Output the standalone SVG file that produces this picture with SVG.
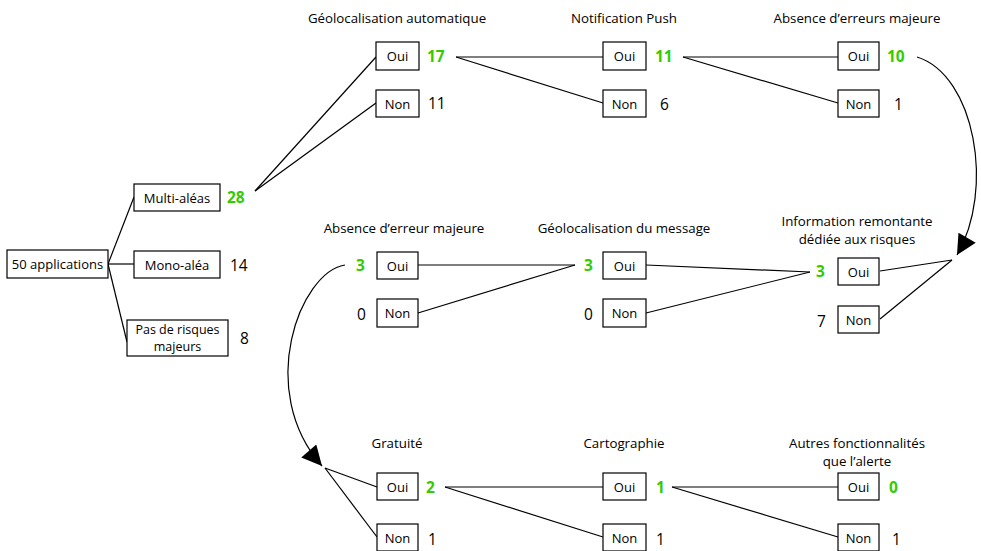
<svg xmlns="http://www.w3.org/2000/svg" width="981" height="551" viewBox="0 0 981 551">
<style>
.box{fill:#fff;stroke:#000;stroke-width:1.2}
.lbl{font-family:"Open Sans","Noto Sans",sans-serif;font-size:13px;fill:#000;text-anchor:middle;dominant-baseline:central}
.sm{font-size:12.5px}
.ttl{font-family:"Open Sans","Noto Sans",sans-serif;font-size:13.3px;fill:#000;text-anchor:middle}
.num{font-family:"Open Sans","Noto Sans",sans-serif;font-size:15.5px;fill:#000;dominant-baseline:central}
.g{fill:#33cc00;font-weight:bold}
.ln{fill:none;stroke:#000;stroke-width:1.2}
</style>
<defs>
<marker id="ahb" viewBox="0 0 10 10" refX="10" refY="5" markerWidth="24" markerHeight="20" markerUnits="userSpaceOnUse" orient="auto">
<path d="M0,0 L10,5 L0,10 z" fill="#000"/>
</marker>
</defs>
<rect width="981" height="551" fill="#fff"/>
<g id="connectors">
<line class="ln" x1="108" y1="264" x2="134" y2="197"/>
<line class="ln" x1="108" y1="264" x2="134" y2="264"/>
<line class="ln" x1="108" y1="264" x2="127" y2="342"/>
<line class="ln" x1="255" y1="191" x2="376" y2="57"/>
<line class="ln" x1="255" y1="191" x2="376" y2="103"/>
<line class="ln" x1="456" y1="57" x2="603" y2="57"/>
<line class="ln" x1="456" y1="57" x2="603" y2="103"/>
<line class="ln" x1="683" y1="57" x2="838" y2="57"/>
<line class="ln" x1="683" y1="57" x2="838" y2="103"/>
<path class="ln" d="M917,57 C975,75 995,190 957,255" marker-end="url(#ahb)"/>
<line class="ln" x1="952" y1="260" x2="880" y2="271"/>
<line class="ln" x1="952" y1="260" x2="880" y2="319"/>
<line class="ln" x1="646" y1="265" x2="810" y2="272"/>
<line class="ln" x1="646" y1="313" x2="810" y2="272"/>
<line class="ln" x1="418" y1="265" x2="575" y2="265"/>
<line class="ln" x1="418" y1="313" x2="575" y2="265"/>
<path class="ln" d="M345,265 C300,272 255,390 322,466" marker-end="url(#ahb)"/>
<line class="ln" x1="325" y1="468" x2="377" y2="487"/>
<line class="ln" x1="325" y1="468" x2="377" y2="537"/>
<line class="ln" x1="445" y1="487" x2="603" y2="487"/>
<line class="ln" x1="445" y1="487" x2="603" y2="537"/>
<line class="ln" x1="672" y1="487" x2="838" y2="487"/>
<line class="ln" x1="672" y1="487" x2="838" y2="537"/>
</g>
<g id="titles">
<text class="ttl" x="397" y="23">Géolocalisation automatique</text>
<text class="ttl" x="624" y="23">Notification Push</text>
<text class="ttl" x="857" y="23">Absence d’erreurs majeure</text>
<text class="ttl" x="404" y="233">Absence d’erreur majeure</text>
<text class="ttl" x="624" y="233">Géolocalisation du message</text>
<text class="ttl" x="857" y="226">Information remontante</text>
<text class="ttl" x="857" y="244">dédiée aux risques</text>
<text class="ttl" x="397" y="448">Gratuité</text>
<text class="ttl" x="624" y="448">Cartographie</text>
<text class="ttl" x="857" y="448">Autres fonctionnalités</text>
<text class="ttl" x="857" y="466">que l’alerte</text>
</g>
<g id="n-root"><rect class="box" x="7" y="250" width="101" height="28"/><text class="lbl" x="57.5" y="264">50 applications</text></g>
<g id="n-multi"><rect class="box" x="134" y="184" width="86" height="27"/><text class="lbl" x="177" y="197.5">Multi-aléas</text><text class="num g" x="227" y="197">28</text></g>
<g id="n-mono"><rect class="box" x="134" y="251" width="86" height="27"/><text class="lbl" x="177" y="264.5">Mono-aléa</text><text class="num" x="230" y="265">14</text></g>
<g id="n-pas"><rect class="box" x="127" y="320" width="101" height="36"/><text class="lbl sm" x="177.5" y="329.5">Pas de risques</text><text class="lbl sm" x="177.5" y="346.5">majeurs</text><text class="num" x="240" y="338">8</text></g>
<g id="n-geo-oui"><rect class="box" x="376" y="42" width="43" height="28"/><text class="lbl" x="397.5" y="56">Oui</text><text class="num g" x="427" y="56">17</text></g>
<g id="n-geo-non"><rect class="box" x="376" y="90" width="43" height="27"/><text class="lbl" x="397.5" y="103.5">Non</text><text class="num" x="428" y="103">11</text></g>
<g id="n-push-oui"><rect class="box" x="603" y="42" width="43" height="28"/><text class="lbl" x="624.5" y="56">Oui</text><text class="num g" x="655" y="56">11</text></g>
<g id="n-push-non"><rect class="box" x="603" y="90" width="43" height="27"/><text class="lbl" x="624.5" y="103.5">Non</text><text class="num" x="660" y="104">6</text></g>
<g id="n-err-oui"><rect class="box" x="838" y="42" width="41" height="28"/><text class="lbl" x="858.5" y="56">Oui</text><text class="num g" x="887" y="56">10</text></g>
<g id="n-err-non"><rect class="box" x="838" y="90" width="41" height="27"/><text class="lbl" x="858.5" y="103.5">Non</text><text class="num" x="894" y="104">1</text></g>
<g id="n-info-oui"><rect class="box" x="838" y="258" width="41" height="27"/><text class="lbl" x="858.5" y="271.5">Oui</text><text class="num g" x="816" y="271">3</text></g>
<g id="n-info-non"><rect class="box" x="838" y="306" width="41" height="27"/><text class="lbl" x="858.5" y="319.5">Non</text><text class="num" x="817" y="321">7</text></g>
<g id="n-geom-oui"><rect class="box" x="603" y="252" width="43" height="27"/><text class="lbl" x="624.5" y="265.5">Oui</text><text class="num g" x="584" y="265">3</text></g>
<g id="n-geom-non"><rect class="box" x="603" y="299" width="43" height="28"/><text class="lbl" x="624.5" y="313">Non</text><text class="num" x="584" y="314">0</text></g>
<g id="n-abs-oui"><rect class="box" x="377" y="252" width="41" height="27"/><text class="lbl" x="397.5" y="265.5">Oui</text><text class="num g" x="356" y="265">3</text></g>
<g id="n-abs-non"><rect class="box" x="377" y="299" width="41" height="28"/><text class="lbl" x="397.5" y="313">Non</text><text class="num" x="357" y="314">0</text></g>
<g id="n-grat-oui"><rect class="box" x="377" y="473" width="41" height="27"/><text class="lbl" x="397.5" y="486.5">Oui</text><text class="num g" x="426" y="487">2</text></g>
<g id="n-grat-non"><rect class="box" x="377" y="524" width="41" height="27"/><text class="lbl" x="397.5" y="537.5">Non</text><text class="num" x="428" y="539">1</text></g>
<g id="n-carto-oui"><rect class="box" x="603" y="473" width="43" height="27"/><text class="lbl" x="624.5" y="486.5">Oui</text><text class="num g" x="656" y="487">1</text></g>
<g id="n-carto-non"><rect class="box" x="603" y="524" width="43" height="27"/><text class="lbl" x="624.5" y="537.5">Non</text><text class="num" x="656" y="539">1</text></g>
<g id="n-autres-oui"><rect class="box" x="838" y="473" width="41" height="27"/><text class="lbl" x="858.5" y="486.5">Oui</text><text class="num g" x="889" y="487">0</text></g>
<g id="n-autres-non"><rect class="box" x="838" y="524" width="41" height="27"/><text class="lbl" x="858.5" y="537.5">Non</text><text class="num" x="892" y="539">1</text></g>
</svg>
